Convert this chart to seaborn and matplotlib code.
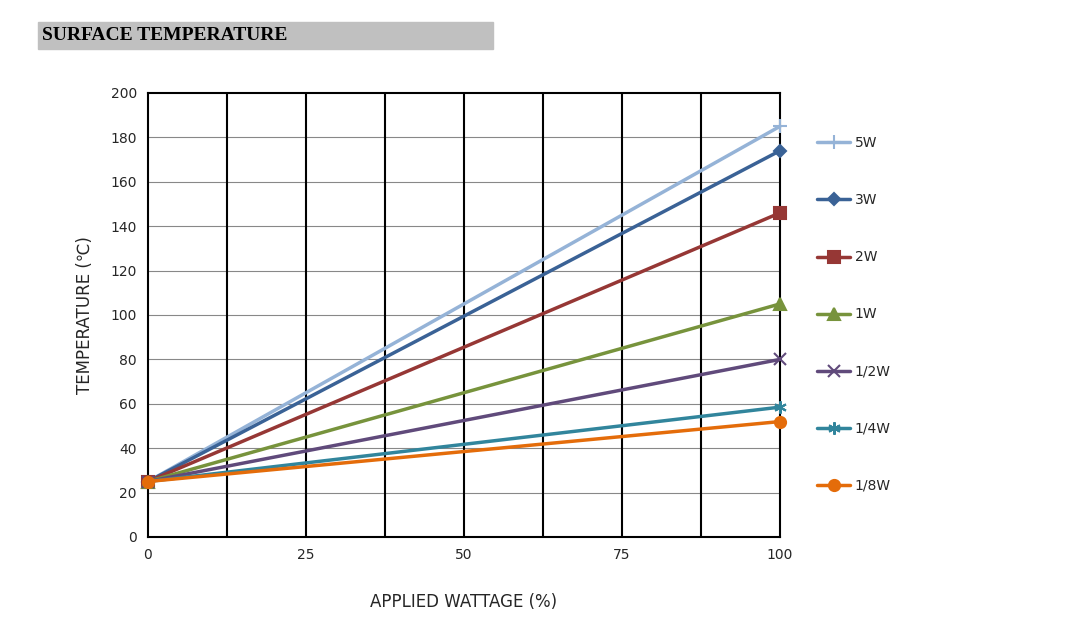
import matplotlib
matplotlib.use("Agg")
import matplotlib.pyplot as plt
import seaborn as sns
import pandas as pd
from matplotlib.patches import Rectangle

# data
wattage = [0, 100]
series = ["5W", "3W", "2W", "1W", "1/2W", "1/4W", "1/8W"]
start_temp = [25, 25, 25, 25, 25, 25, 25]
end_temp = [185, 174, 146, 105, 80, 58.5, 52]

colors = ["#95B3D7", "#3A6296", "#963735", "#77933C", "#604A7B", "#31859C", "#E46C0A"]
markers = ["+", "D", "s", "^", "x", (6, 2, 0), "o"]
msizes = [10, 6, 8, 8, 8, 9, 8]

rows = []
for name, a, b in zip(series, start_temp, end_temp):
    rows.append({"series": name, "pct": wattage[0], "temp": a})
    rows.append({"series": name, "pct": wattage[1], "temp": b})
df = pd.DataFrame(rows)

sns.set_style("white")
fig = plt.figure(figsize=(10.75, 6.33), dpi=100)
ax = fig.add_axes([148/1075, 1-537/633, (780-148)/1075, (537-93)/633])

for name, c, m, ms in zip(series, colors, markers, msizes):
    sub = df[df["series"] == name]
    sns.lineplot(data=sub, x="pct", y="temp", ax=ax, color=c, lw=2.5,
                 marker=m, markersize=ms, markeredgecolor=c, markeredgewidth=1.5,
                 label=name, zorder=3, clip_on=False)

ax.set_xlim(0, 100)
ax.set_ylim(0, 200)
ax.set_yticks(range(0, 201, 20))
ax.set_xticks([0, 25, 50, 75, 100])
for xv in [12.5, 25, 37.5, 50, 62.5, 75, 87.5]:
    ax.axvline(xv, color="black", lw=1.5, zorder=1)
for yv in range(20, 200, 20):
    ax.axhline(yv, color="#888888", lw=0.8, zorder=0)
for s in ax.spines.values():
    s.set_color("black")
    s.set_linewidth(1.5)
ax.tick_params(labelsize=10, length=0, pad=8)
ax.set_xlabel("APPLIED WATTAGE (%)", fontsize=12, labelpad=22)
ax.set_ylabel("TEMPERATURE (℃)", fontsize=12, labelpad=12)

ax.legend(loc="upper left", bbox_to_anchor=(1.05, 0.915), frameon=False,
          fontsize=10, labelspacing=3.1, handlelength=2.4, handletextpad=0.3,
          borderaxespad=0)

fig.patches.append(Rectangle((38/1075, 1-49/633), (493-38)/1075, 27/633,
                             transform=fig.transFigure, color="#C0C0C0", zorder=0))
fig.text(42/1075, 1-36/633, "SURFACE TEMPERATURE", family="Liberation Serif",
         fontweight="bold", fontsize=14, va="center", color="black")

fig.savefig("out.png", dpi=100)
